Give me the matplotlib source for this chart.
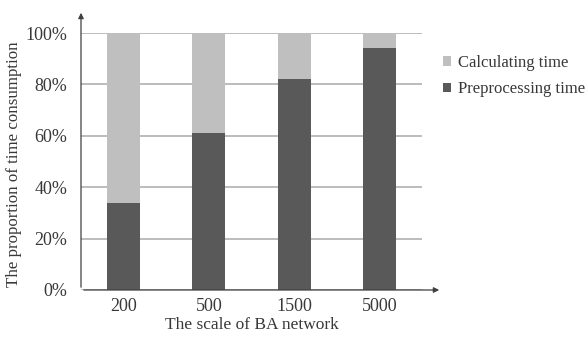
import matplotlib
matplotlib.use("Agg")
import matplotlib.pyplot as plt
import numpy as np

categories = ["200", "500", "1500", "5000"]
preprocessing = [34, 61, 82, 94]
calculating = [66, 39, 18, 6]
yticks = [0, 20, 40, 60, 80, 100]
ytick_labels = ["0%", "20%", "40%", "60%", "80%", "100%"]

plt.rcParams['font.family'] = ['Liberation Serif', 'DejaVu Serif']

W, H = 586, 337
fig = plt.figure(figsize=(W/100, H/100), dpi=100)
ax = fig.add_axes([81/W, 1-290/H, (422-81)/W, (290-33)/H])

x = np.arange(len(categories))
dark = "#595959"
light = "#bfbfbf"
ax.bar(x, preprocessing, width=0.39, color=dark, label="Preprocessing time", zorder=3)
ax.bar(x, calculating, width=0.39, bottom=preprocessing, color=light, label="Calculating time", zorder=3)

ax.set_xlim(-0.5, 3.5)
ax.set_ylim(0, 100)
ax.set_yticks(yticks)
ax.set_yticklabels(ytick_labels, fontsize=13, color="#383838")
ax.set_xticks(x)
ax.set_xticklabels(categories, fontsize=13, color="#383838")
ax.tick_params(axis="y", length=0, pad=10)
ax.tick_params(axis="x", length=0, pad=6)
ax.yaxis.grid(True, color="#b0b0b0", linewidth=1.2, zorder=0)
ax.set_axisbelow(True)
for s in ["top", "right", "left", "bottom"]:
    ax.spines[s].set_visible(False)

# axis arrows
ax.annotate("", xy=(3.5 + 20/85.3, 0), xytext=(-0.5, 0), xycoords="data",
            arrowprops=dict(arrowstyle="-|>", color="#404040", lw=0.9, mutation_scale=8),
            annotation_clip=False)
ax.annotate("", xy=(-0.5, 100 + 23/2.57), xytext=(-0.5, 0), xycoords="data",
            arrowprops=dict(arrowstyle="-|>", color="#404040", lw=0.9, mutation_scale=8),
            annotation_clip=False)

ax.set_xlabel("The scale of BA network", fontsize=12.5, color="#383838", labelpad=1)
ax.set_ylabel("The proportion of time consumption", fontsize=12.2, color="#383838",
              va="center")
ax.yaxis.set_label_coords((14 - 81) / 341, 0.49)

handles, labels = ax.get_legend_handles_labels()
leg = fig.legend(handles[::-1], labels[::-1], loc="upper left", bbox_to_anchor=(443/W, 1-55/H),
                 frameon=False, fontsize=12, handlelength=0.5, handleheight=0.5,
                 handletextpad=0.42, labelspacing=0.62, borderaxespad=0, borderpad=0)
for t in leg.get_texts():
    t.set_color("#383838")

fig.savefig("out.png", dpi=100)
